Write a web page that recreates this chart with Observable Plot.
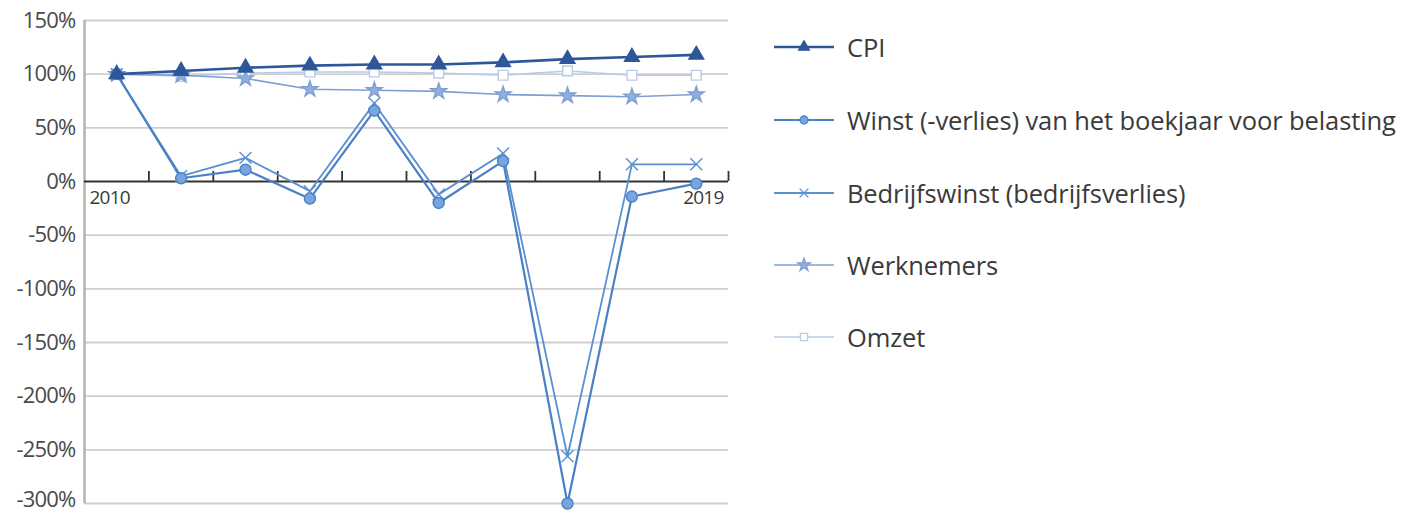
<!DOCTYPE html>
<html>
<head>
<meta charset="utf-8">
<script src="https://cdn.jsdelivr.net/npm/d3@7"></script>
<script src="https://cdn.jsdelivr.net/npm/@observablehq/plot@0.6"></script>
<style>
  html, body { margin: 0; padding: 0; background: #fff; }
  #wrap { position: relative; width: 1405px; height: 513px; overflow: hidden; }
  #chart { position: absolute; left: 0; top: 0; }
  #legend { position: absolute; left: 772px; top: 0; font-family: "Open Sans", sans-serif; color: #3a3a3a; }
  .item { position: absolute; left: 0; display: flex; align-items: center; white-space: nowrap; }
  .item svg { display: block; }
  .item span { margin-left: 11px; font-size: 25.5px; letter-spacing: -0.1px; }
  .ylab { font-size: 22px !important; letter-spacing: -0.8px !important; }
</style>
</head>
<body>
<div id="wrap"><div id="chart"></div><div id="legend"></div></div>
<script>
const years = [2010, 2011, 2012, 2013, 2014, 2015, 2016, 2017, 2018, 2019];
const cpi = [100, 103, 106, 108, 109, 109, 111, 114, 116, 118];
const winst = [100, 3, 11, -16, 66, -20, 19, -300, -14, -2];
const bedrijfswinst = [100, 5, 22, -9, 73, -12, 26, -256, 16, 16];
const werknemers = [100, 99, 96, 86, 85, 84, 81, 80, 79, 81];
const omzet = [100, 98, 101, 102, 102, 101, 99, 103, 99, 99];
const seriesNames = ["CPI", "Winst (-verlies) van het boekjaar voor belasting", "Bedrijfswinst (bedrijfsverlies)", "Werknemers", "Omzet"];
const yTicks = [150, 100, 50, 0, -50, -100, -150, -200, -250, -300];
const xLabels = ["2010", "2019"];

const seriesValues = [cpi, winst, bedrijfswinst, werknemers, omzet];
const styles = [
  {stroke: "#2d5799", fill: "#2d5799", symbol: "triangle", r: 5.5, sw: 2.6},
  {stroke: "#4a80c4", fill: "#78a6dc", symbol: "circle", r: 5.5, sw: 2.2},
  {stroke: "#5a8fd2", fill: "none", symbol: "times", r: 5.5, sw: 1.8},
  {stroke: "#7f9fd2", fill: "#8fb0de", symbol: "star", r: 5, sw: 1.6},
  {stroke: "#b8cce9", fill: "#ffffff", symbol: "square", r: 5.5, sw: 1.6}
];

const rows = [];
seriesNames.forEach((name, s) => years.forEach((yr, i) => rows.push({series: name, s, year: yr, value: seriesValues[s][i]})));

const bounds = years.map(y => y - 0.5).concat([years[years.length - 1] + 0.5]);
const first = years[0], last = years[years.length - 1];
const yMin = yTicks[yTicks.length - 1], yMax = yTicks[0];

const marks = [
  Plot.ruleY(yTicks.filter(t => t !== 0), {y: d => d, stroke: "#cfcfcf", strokeWidth: 1.8}),
  Plot.ruleX([first - 0.5], {x: d => d, y1: yMin, y2: yMax, stroke: "#b3b3b3", strokeWidth: 2.5}),
  Plot.ruleY([0], {y: d => d, stroke: "#333", strokeWidth: 1.8}),
  Plot.ruleX(bounds.slice(1), {x: d => d, y1: 0, y2: 0, insetTop: -10, stroke: "#333", strokeWidth: 1.8}),
  Plot.text([xLabels[0]], {x: () => first - 0.5, y: () => 0, dy: 16, dx: 5, textAnchor: "start", fontSize: 19, fill: "#3a3a3a"}),
  Plot.text([xLabels[1]], {x: () => last + 0.5, y: () => 0, dy: 16, dx: -5, textAnchor: "end", fontSize: 19, fill: "#3a3a3a"}),
  // y tick labels
  Plot.text(yTicks.filter(t => t !== yMin), {x: () => first - 0.5, y: d => d, text: d => d + "%", dx: -9, textAnchor: "end", className: "ylab", fill: "#4a4a4a"}),
  Plot.text([yMin], {x: () => first - 0.5, y: d => d, text: d => d + "%", dx: -9, dy: -4, textAnchor: "end", className: "ylab", fill: "#4a4a4a"})
];
for (let s = seriesNames.length - 1; s >= 0; s--) {
  const st = styles[s];
  const data = rows.filter(r => r.s === s);
  marks.push(Plot.line(data, {x: "year", y: "value", stroke: st.stroke, strokeWidth: st.sw}));
  marks.push(Plot.dot(data, {x: "year", y: "value", symbol: () => st.symbol, r: st.r, stroke: st.stroke, fill: st.fill, strokeWidth: 1.4}));
}

const chart = Plot.plot({
  width: 740,
  height: 513,
  marginLeft: 84,
  marginRight: 12,
  marginTop: 20,
  marginBottom: 10,
  style: {fontFamily: "Open Sans", background: "#fff", overflow: "visible"},
  x: {domain: [first - 0.5, last + 0.5], axis: null},
  y: {domain: [yMin, yMax], axis: null},
  symbol: {type: "identity"},
  marks
});
chart.querySelectorAll("text").forEach(t => { t.style.letterSpacing = "-0.8px"; });
chart.querySelectorAll("g.ylab text, .ylab text, text.ylab").forEach(t => { t.setAttribute("font-size", "22"); t.style.fontSize = "22px"; });
chart.querySelectorAll("g.ylab").forEach(g => { g.setAttribute("font-size", "22"); g.style.fontSize = "22px"; });
document.getElementById("chart").appendChild(chart);

// Legend
const legend = document.getElementById("legend");
const legendY = [47, 120, 193, 265, 337];
seriesNames.forEach((name, s) => {
  const st = styles[s];
  const item = document.createElement("div");
  item.className = "item";
  item.style.top = (legendY[s] - 17) + "px";
  item.style.height = "34px";
  const ns = "http://www.w3.org/2000/svg";
  const svg = document.createElementNS(ns, "svg");
  svg.setAttribute("width", 64); svg.setAttribute("height", 34);
  const line = document.createElementNS(ns, "line");
  line.setAttribute("x1", 2); line.setAttribute("x2", 62); line.setAttribute("y1", 17); line.setAttribute("y2", 17);
  line.setAttribute("stroke", st.stroke); line.setAttribute("stroke-width", st.sw);
  svg.appendChild(line);
  const symMap = {triangle: d3.symbolTriangle, circle: d3.symbolCircle, times: d3.symbolTimes, star: d3.symbolStar, square: d3.symbolSquare};
  const path = document.createElementNS(ns, "path");
  path.setAttribute("d", d3.symbol(symMap[st.symbol], Math.PI * 4.5 * 4.5 * 0.8)());
  path.setAttribute("transform", "translate(32,17)");
  path.setAttribute("fill", st.fill); path.setAttribute("stroke", st.stroke); path.setAttribute("stroke-width", 1.3);
  svg.appendChild(path);
  const span = document.createElement("span");
  span.textContent = name;
  item.appendChild(svg); item.appendChild(span);
  legend.appendChild(item);
});
</script>
</body>
</html>
